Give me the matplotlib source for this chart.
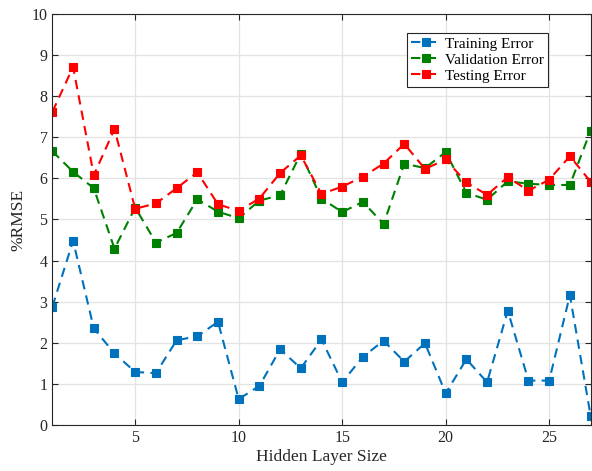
import matplotlib
matplotlib.use("Agg")
import matplotlib.pyplot as plt

plt.rcParams['font.family'] = ['Liberation Serif', 'DejaVu Serif']
plt.rcParams['mathtext.fontset'] = 'stix'

# 数据
hidden_size = list(range(1, 28))
training_err = [2.88, 4.48, 2.35, 1.74, 1.29, 1.26, 2.06, 2.16, 2.51, 0.63, 0.95, 1.84, 1.38, 2.08,
                1.04, 1.66, 2.05, 1.54, 1.99, 0.77, 1.60, 1.04, 2.78, 1.08, 1.08, 3.16, 0.23]
validation_err = [6.66, 6.16, 5.76, 4.29, 5.29, 4.44, 4.67, 5.49, 5.19, 5.03, 5.46, 5.59, 6.60, 5.51,
                  5.18, 5.43, 4.89, 6.36, 6.25, 6.64, 5.65, 5.48, 5.93, 5.87, 5.84, 5.84, 7.16]
testing_err = [7.62, 8.71, 6.08, 7.20, 5.26, 5.39, 5.76, 6.15, 5.37, 5.21, 5.51, 6.13, 6.56, 5.62,
               5.80, 6.04, 6.36, 6.84, 6.23, 6.46, 5.90, 5.60, 6.03, 5.70, 5.97, 6.54, 5.92]
yticks = list(range(0, 11))
xticks = [5, 10, 15, 20, 25]

fig = plt.figure(figsize=(5.92, 4.71), dpi=100)
ax = fig.add_axes([0.0885, 0.0977, 0.9091, 0.8726])

style = dict(linestyle=(0, (4.5, 3)), linewidth=1.5, marker='s', markersize=5.2,
             markeredgewidth=0.8)
ax.plot(hidden_size, training_err, color='#0072BD', label='Training Error', **style)
ax.plot(hidden_size, validation_err, color='#008000', label='Validation Error', **style)
ax.plot(hidden_size, testing_err, color='#FF0000', label='Testing Error', **style)

ax.set_xlim(1, 27)
ax.set_ylim(0, 10)
ax.set_xticks(xticks)
ax.set_yticks(yticks)
ax.grid(True, color='#e3e3e3', linewidth=0.9)
ax.set_axisbelow(True)
ax.tick_params(direction='in', length=4, top=True, right=True, labelsize=11.5,
               colors='#262626', width=0.8)
for s in ax.spines.values():
    s.set_color('#262626')
    s.set_linewidth(0.8)

ax.set_xlabel('Hidden Layer Size', fontsize=12.5, color='#262626', labelpad=2)
ax.set_ylabel('%RMSE', fontsize=12.5, color='#262626', labelpad=4)

leg = ax.legend(loc='upper right', bbox_to_anchor=(0.92, 0.953), fontsize=11,
                fancybox=False, edgecolor='#262626', framealpha=1,
                handlelength=2.0, handletextpad=0.2, borderpad=0.25, labelspacing=0.15,
                borderaxespad=0)
leg.get_frame().set_linewidth(0.8)

fig.savefig('out.png', dpi=100)
